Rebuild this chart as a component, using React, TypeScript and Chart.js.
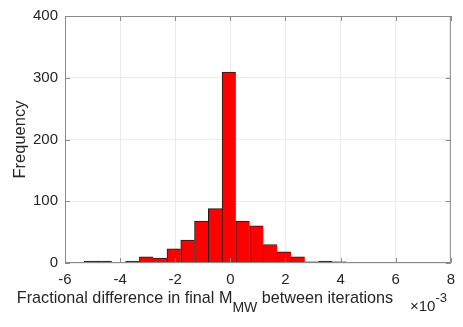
import React, { useEffect, useRef } from "react";
import { Chart, registerables } from "chart.js";

Chart.register(...registerables);

// Bin centers (×10^-3), bin width 0.5
const binCenters = [
  -5.05, -4.55, -4.05, -3.55, -3.05, -2.55, -2.05, -1.55, -1.05, -0.55, -0.05,
  0.45, 0.95, 1.45, 1.95, 2.45, 2.95, 3.45, 3.95, 4.45, 4.95, 5.45, 5.95, 6.45, 6.95,
];
const counts = [
  3, 3, 1, 3, 10, 8, 23, 37, 68, 88, 309,
  68, 60, 30, 18, 10, 2, 3, 2, 0, 0, 1, 1, 0, 1,
];
const xTicks = [-6, -4, -2, 0, 2, 4, 6, 8];
const yTicks = [0, 100, 200, 300, 400];
const xLabelMain = "Fractional difference in final M";
const xLabelSub = "MW";
const xLabelRest = " between iterations";
const yLabel = "Frequency";
const expBase = "\u00d710";
const expPow = "-3";

const FONT = "'Liberation Sans', Arial, Helvetica, sans-serif";
const TEXT = "#262626";
const FRAME = "#8a8a8a";
const GRID = "#ebebeb";

const framePlugin = {
  id: "frame",
  afterDraw(chart: any) {
    const { ctx, chartArea: a, scales } = chart;
    ctx.save();
    ctx.strokeStyle = FRAME;
    ctx.lineWidth = 1;
    ctx.strokeRect(a.left + 0.5, a.top + 0.5, a.right - a.left - 1, a.bottom - a.top - 1);
    const tl = 5;
    ctx.beginPath();
    for (const v of xTicks) {
      const px = Math.round(scales.x.getPixelForValue(v)) + 0.5;
      ctx.moveTo(px, a.bottom);
      ctx.lineTo(px, a.bottom - tl);
      ctx.moveTo(px, a.top);
      ctx.lineTo(px, a.top + tl);
    }
    for (const v of yTicks) {
      const py = Math.round(scales.y.getPixelForValue(v)) + 0.5;
      ctx.moveTo(a.left, py);
      ctx.lineTo(a.left + tl, py);
      ctx.moveTo(a.right, py);
      ctx.lineTo(a.right - tl, py);
    }
    ctx.stroke();

    // x label with subscript
    ctx.fillStyle = TEXT;
    ctx.textBaseline = "alphabetic";
    ctx.textAlign = "left";
    const mainFont = `16.2px ${FONT}`;
    const subFont = `14px ${FONT}`;
    ctx.font = mainFont;
    const w1 = ctx.measureText(xLabelMain).width;
    ctx.font = subFont;
    const w2 = ctx.measureText(xLabelSub).width;
    ctx.font = mainFont;
    const w3 = ctx.measureText(xLabelRest).width;
    const total = w1 + w2 + w3;
    const x0 = 205 - total / 2;
    const base = 303;
    ctx.font = mainFont;
    ctx.fillText(xLabelMain, x0, base);
    ctx.font = subFont;
    ctx.fillText(xLabelSub, x0 + w1, base + 8.5);
    ctx.font = mainFont;
    ctx.fillText(xLabelRest, x0 + w1 + w2, base);

    // exponent
    ctx.font = `15px ${FONT}`;
    ctx.fillText(expBase, 410, 311);
    const wb = ctx.measureText(expBase).width;
    ctx.font = `13px ${FONT}`;
    ctx.fillText(expPow, 410 + wb, 302);

    // y label
    ctx.save();
    ctx.translate(25, (a.top + a.bottom) / 2);
    ctx.rotate(-Math.PI / 2);
    ctx.textAlign = "center";
    ctx.font = `16.5px ${FONT}`;
    ctx.fillText(yLabel, 0, 0);
    ctx.restore();
    ctx.restore();
  },
};

export default function App() {
  const ref = useRef<HTMLCanvasElement>(null);
  useEffect(() => {
    const canvas = ref.current!;
    const chart = new Chart(canvas, {
      type: "bar",
      data: {
        datasets: [
          {
            data: binCenters.map((x, i) => ({ x, y: counts[i] })),
            backgroundColor: "#ff0000",
            borderColor: "#1a1a1a",
            borderWidth: { left: 1, top: 1, right: 0, bottom: 0 },
            borderSkipped: false,
            barPercentage: 1,
            categoryPercentage: 1,
          },
        ],
      },
      options: {
        animation: false,
        responsive: false,
        maintainAspectRatio: false,
        layout: { padding: { top: 15, right: 11, left: 0, bottom: 0 } },
        plugins: { legend: { display: false }, tooltip: { enabled: false } },
        scales: {
          x: {
            type: "linear",
            min: -6,
            max: 8,
            offset: false,
            afterBuildTicks: (s: any) => {
              s.ticks = xTicks.map((v) => ({ value: v }));
            },
            afterFit: (s: any) => {
              s.height = 64;
            },
            grid: { color: GRID, drawTicks: false, offset: false },
            border: { display: false },
            ticks: {
              font: { family: FONT, size: 15 },
              color: TEXT,
              padding: 8,
              maxRotation: 0,
              callback: (v: any) => String(v),
            },
          },
          y: {
            min: 0,
            max: 400,
            afterBuildTicks: (s: any) => {
              s.ticks = yTicks.map((v) => ({ value: v }));
            },
            afterFit: (s: any) => {
              s.width = 65;
            },
            grid: { color: GRID, drawTicks: false },
            border: { display: false },
            ticks: {
              font: { family: FONT, size: 15 },
              color: TEXT,
              padding: 7,
              callback: (v: any) => String(v),
            },
          },
        },
      },
      plugins: [framePlugin],
    });
    return () => chart.destroy();
  }, []);
  return (
    <div style={{ position: "fixed", left: 0, top: 0, width: 463, height: 327, background: "#fff" }}>
      <canvas ref={ref} width={463} height={327} style={{ width: 463, height: 327 }} />
    </div>
  );
}
